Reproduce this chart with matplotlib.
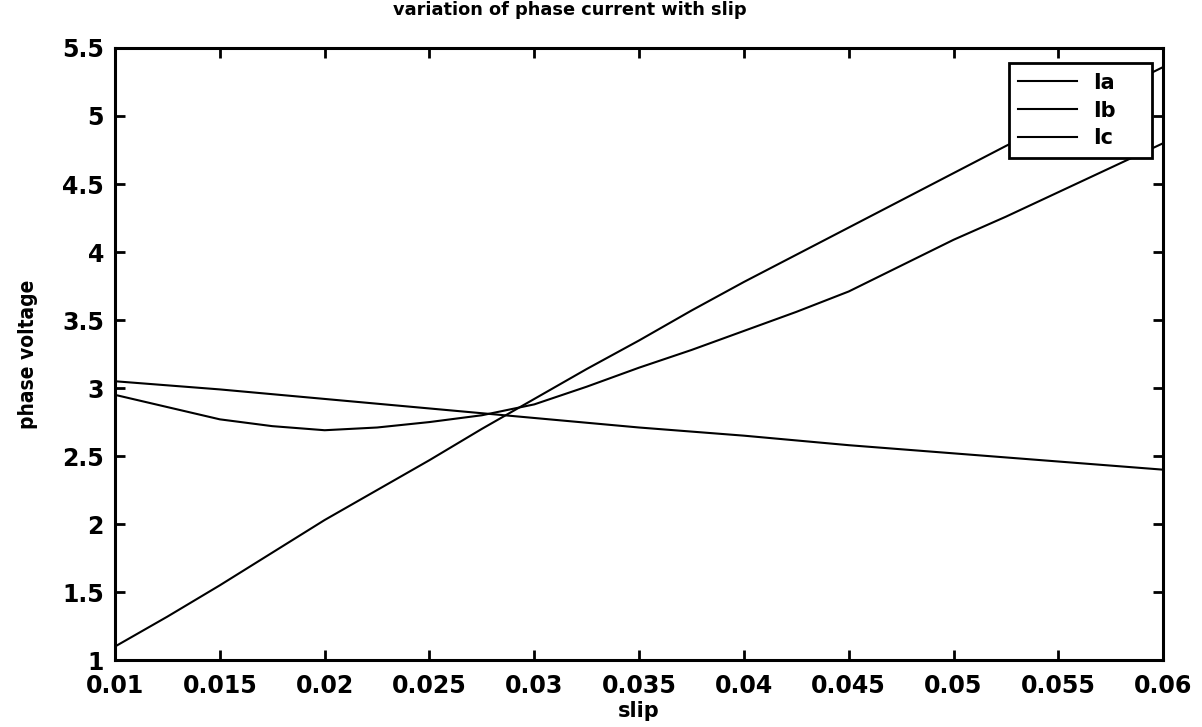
import matplotlib
matplotlib.use("Agg")
import matplotlib.pyplot as plt

# slip values and phase quantities for the three phases
slip = [0.01, 0.0125, 0.015, 0.0175, 0.02, 0.0225, 0.025, 0.0275, 0.03, 0.0325,
        0.035, 0.0375, 0.04, 0.0425, 0.045, 0.0475, 0.05, 0.0525, 0.055, 0.0575, 0.06]
Ia = [1.10, 1.32, 1.55, 1.79, 2.03, 2.25, 2.47, 2.70, 2.92, 3.14,
      3.35, 3.57, 3.78, 3.98, 4.18, 4.38, 4.58, 4.78, 4.97, 5.17, 5.36]
Ib = [2.95, 2.86, 2.77, 2.72, 2.69, 2.71, 2.75, 2.80, 2.88, 3.01,
      3.15, 3.28, 3.42, 3.56, 3.71, 3.90, 4.09, 4.26, 4.44, 4.62, 4.80]
Ic = [3.05, 3.02, 2.99, 2.955, 2.92, 2.885, 2.85, 2.815, 2.78, 2.745,
      2.71, 2.68, 2.65, 2.615, 2.58, 2.55, 2.52, 2.49, 2.46, 2.43, 2.40]

xticks = [0.01, 0.015, 0.02, 0.025, 0.03, 0.035, 0.04, 0.045, 0.05, 0.055, 0.06]
xlabels = ["0.01", "0.015", "0.02", "0.025", "0.03", "0.035", "0.04", "0.045", "0.05", "0.055", "0.06"]
yticks = [1, 1.5, 2, 2.5, 3, 3.5, 4, 4.5, 5, 5.5]
ylabels = ["1", "1.5", "2", "2.5", "3", "3.5", "4", "4.5", "5", "5.5"]

plt.rcParams["font.family"] = "DejaVu Sans"
plt.rcParams["font.weight"] = "bold"

fig = plt.figure(figsize=(12.02, 7.27), dpi=100)
ax = fig.add_axes([0.0957, 0.092, 0.872, 0.842])

ax.plot(slip, Ia, color="black", lw=1.5, label="Ia")
ax.plot(slip, Ib, color="black", lw=1.5, label="Ib")
ax.plot(slip, Ic, color="black", lw=1.5, label="Ic")

ax.set_xlim(0.01, 0.06)
ax.set_ylim(1, 5.5)
ax.set_xticks(xticks)
ax.set_xticklabels(xlabels)
ax.set_yticks(yticks)
ax.set_yticklabels(ylabels)
ax.tick_params(direction="in", length=7, width=2, top=True, right=True,
               labelsize=17)
ax.tick_params(axis="x", pad=10)
ax.tick_params(axis="y", pad=8)
for s in ax.spines.values():
    s.set_linewidth(2.2)

ax.set_xlabel("slip", fontsize=15, fontweight="bold", labelpad=2)
ax.set_ylabel("phase voltage", fontsize=15, fontweight="bold",
              fontstretch="condensed", labelpad=17)
ax.text(0.434, 1.062, "variation of phase current with slip", transform=ax.transAxes,
        ha="center", va="center", fontsize=12.8, fontweight="bold")

leg = ax.legend(loc="upper left", bbox_to_anchor=(0.853, 0.82, 0.1365, 0.155),
                mode="expand", borderaxespad=0, fontsize=15, handlelength=2.8,
                fancybox=False, framealpha=1, edgecolor="black",
                labelspacing=0.38, borderpad=0.45)
leg.get_frame().set_linewidth(2)

fig.savefig("out.png", dpi=100)
